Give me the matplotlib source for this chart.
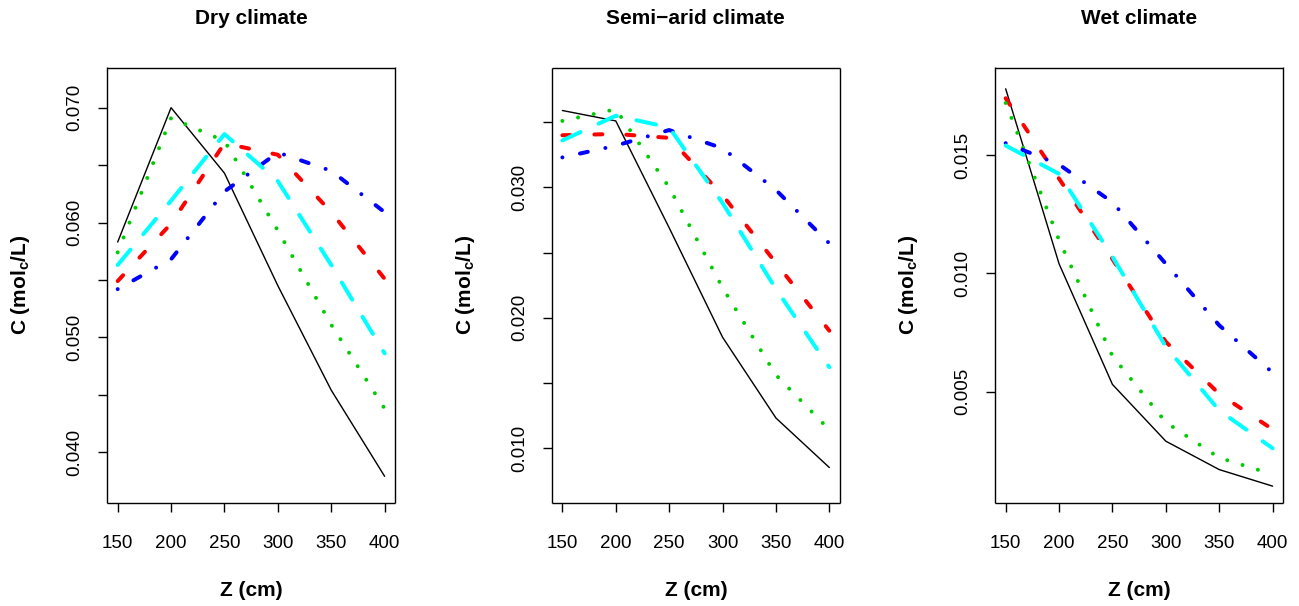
import matplotlib
matplotlib.use("Agg")
import matplotlib.pyplot as plt

plt.rcParams['font.family'] = ['Liberation Sans', 'DejaVu Sans']
plt.rcParams['mathtext.fontset'] = 'custom'
plt.rcParams['mathtext.rm'] = 'Liberation Sans'
plt.rcParams['mathtext.bf'] = 'Liberation Sans:bold'
plt.rcParams['lines.scale_dashes'] = False

depth = [150, 200, 250, 300, 350, 400]

# dry climate, one list per curve
dry_black = [0.0583, 0.0700, 0.0643, 0.0545, 0.0454, 0.0379]
dry_red = [0.0549, 0.0599, 0.0669, 0.0659, 0.0609, 0.0551]
dry_green = [0.0574, 0.0691, 0.0671, 0.0593, 0.0511, 0.0438]
dry_blue = [0.0542, 0.0568, 0.0627, 0.0661, 0.0645, 0.0609]
dry_cyan = [0.0563, 0.0619, 0.0677, 0.0636, 0.0563, 0.0486]

# semi-arid climate
semi_black = [0.0359, 0.0351, 0.0269, 0.0185, 0.0123, 0.0085]
semi_red = [0.0340, 0.0341, 0.0338, 0.0294, 0.0242, 0.0190]
semi_green = [0.0351, 0.0360, 0.0300, 0.0223, 0.0156, 0.0114]
semi_blue = [0.0323, 0.0332, 0.0344, 0.0330, 0.0298, 0.0257]
semi_cyan = [0.0336, 0.0355, 0.0346, 0.0288, 0.0222, 0.0162]

# wet climate
wet_black = [0.0178, 0.0104, 0.0053, 0.0029, 0.0017, 0.0010]
wet_red = [0.0174, 0.0140, 0.0106, 0.0071, 0.0049, 0.0034]
wet_green = [0.0172, 0.0114, 0.0065, 0.0037, 0.0022, 0.0015]
wet_blue = [0.0155, 0.0146, 0.0130, 0.0104, 0.0078, 0.0058]
wet_cyan = [0.0154, 0.0142, 0.0107, 0.0069, 0.0042, 0.0026]

titles = ["Dry climate", "Semi\u2212arid climate", "Wet climate"]
y_ticks = [
    [0.040, 0.045, 0.050, 0.055, 0.060, 0.065, 0.070],
    [0.010, 0.015, 0.020, 0.025, 0.030, 0.035],
    [0.005, 0.010, 0.015],
]
y_ticklabels = [
    ["0.040", "", "0.050", "", "0.060", "", "0.070"],
    ["0.010", "", "0.020", "", "0.030", ""],
    ["0.005", "0.010", "0.015"],
]
y_limits = [(0.0356, 0.0735), (0.0058, 0.0392), (0.0003, 0.0187)]

# R matplot style: col 1:5, lty 1:5 (solid, dashed, dotted, dotdash, longdash)
px = 0.72  # points per pixel at dpi 100
styles = [
    dict(color="black", lw=1.4 * px, ls="-"),
    dict(color="red", lw=4 * px, dashes=(8 * px, 24 * px)),
    dict(color="#00CD00", lw=4 * px, dashes=(0.01, 16 * px)),
    dict(color="blue", lw=4 * px, dashes=(0.01, 18 * px, 8 * px, 18 * px)),
    dict(color="cyan", lw=4 * px, dashes=(20 * px, 20 * px)),
]


def draw_panel(ax, curves, title, ticks, ticklabels, ylim):
    for values, style in zip(curves, styles):
        ax.plot(depth, values, dash_capstyle="round", solid_capstyle="round",
                solid_joinstyle="round", **style)
    ax.set_xlim(140, 410)
    ax.set_ylim(*ylim)
    ax.set_xticks(depth)
    ax.set_yticks(ticks)
    ax.set_yticklabels(ticklabels, rotation=90, va="center")
    ax.tick_params(length=9 * px, width=1.0, labelsize=13.5, pad=10.5, colors="black")
    ax.tick_params(axis="x", pad=17)
    for spine in ax.spines.values():
        spine.set_linewidth(1.4 * px)
        spine.set_capstyle("butt")
    ax.set_title(title, fontsize=15, fontweight="bold", y=1 + 49 / 435, pad=0, va="center")
    ax.set_xlabel("Z (cm)", fontsize=15, fontweight="bold", va="center")
    ax.xaxis.set_label_coords(0.5, -88 / 435)
    ax.set_ylabel(r"C (mol$_\mathbf{c}$/L)", fontsize=15, fontweight="bold", va="center")
    ax.yaxis.set_label_coords(-86 / 288, 0.5)


fig = plt.figure(figsize=(12.99, 6.06), dpi=100)
W, H = 1299, 606
lefts = [107, 551.7, 995]
panel_w = 288.3
top, bottom = 67.5, 502.7

all_curves = [
    [dry_black, dry_red, dry_green, dry_blue, dry_cyan],
    [semi_black, semi_red, semi_green, semi_blue, semi_cyan],
    [wet_black, wet_red, wet_green, wet_blue, wet_cyan],
]

for i in range(3):
    ax = fig.add_axes([lefts[i] / W, (H - bottom) / H, panel_w / W, (bottom - top) / H])
    draw_panel(ax, all_curves[i], titles[i], y_ticks[i], y_ticklabels[i], y_limits[i])

fig.savefig("out.png", dpi=100)
